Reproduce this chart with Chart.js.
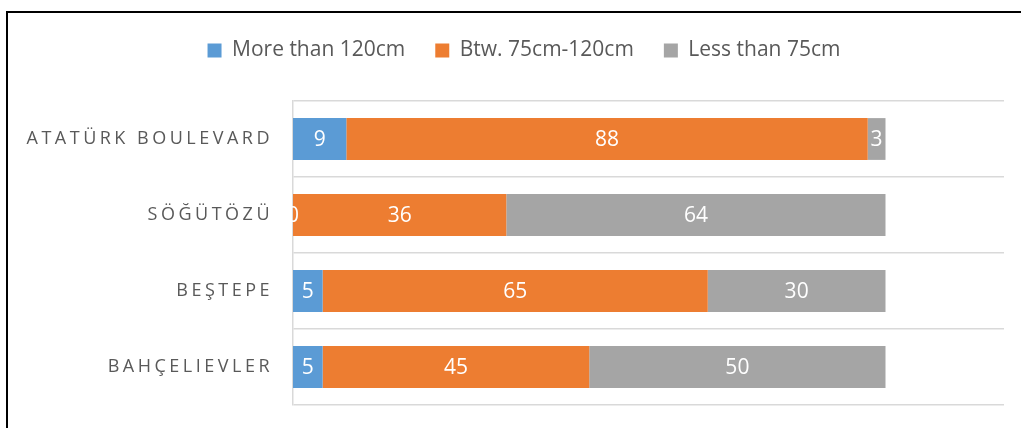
<!DOCTYPE html>
<html>
<head>
<meta charset="utf-8">
<script src="https://cdn.jsdelivr.net/npm/chart.js@4"></script>
<style>
  html, body { margin: 0; padding: 0; background: #fff; overflow: hidden; }
  #wrap { position: relative; width: 1021px; height: 428px; }
  #frame { position: absolute; left: 6px; top: 11px; width: 2000px; height: 1000px;
           border-left: 2px solid #000; border-top: 2px solid #000; box-sizing: border-box; }
  canvas { position: absolute; left: 0; top: 0; }
</style>
</head>
<body>
<div id="wrap">
  <div id="frame"></div>
  <canvas id="c" width="1021" height="428"></canvas>
</div>
<script>
// Streets surveyed, listed top to bottom
const streets = ['ATATÜRK BOULEVARD', 'SÖĞÜTÖZÜ', 'BEŞTEPE', 'BAHÇELIEVLER'];

// Share of each width class per street (%)
const moreThan120 = [9, 0, 5, 5];
const between75and120 = [88, 36, 65, 45];
const lessThan75 = [3, 64, 30, 50];

const seriesNames = ['More than 120cm', 'Btw. 75cm-120cm', 'Less than 75cm'];
const seriesColors = ['#5B9BD5', '#ED7D31', '#A5A5A5'];

const PAD_TOP = 10;
const PLOT_LEFT = 293;
const PLOT_TOP = 101;
const LEGEND_SHIFT = 22;

// Fixed legend band height, and the legend row centred over the plot
const legendPlacement = {
  id: 'legendPlacement',
  beforeLayout(chart) {
    const lg = chart.legend;
    if (lg && !lg._heightWrapped) {
      const fit = lg.fit.bind(lg);
      lg.fit = function () {
        fit();
        this.height = PLOT_TOP - PAD_TOP;
      };
      lg._heightWrapped = true;
    }
  },
  afterLayout(chart) {
    const lg = chart.legend;
    if (lg) {
      lg.left += LEGEND_SHIFT;
      lg.right += LEGEND_SHIFT;
    }
  }
};

// Wide-tracked category labels on the y axis
const spacedLabels = {
  id: 'spacedLabels',
  beforeDraw(chart) {
    const y = chart.scales.y;
    if (y && !y._spacedWrapped) {
      const orig = y.drawLabels.bind(y);
      y.drawLabels = function (area) {
        const ctx = this.ctx;
        ctx.save();
        ctx.letterSpacing = '3.5px';
        orig(area);
        ctx.restore();
      };
      y._spacedWrapped = true;
    }
  }
};

// Value labels centred in each bar segment
const valueLabels = {
  id: 'valueLabels',
  afterDatasetsDraw(chart) {
    const ctx = chart.ctx;
    ctx.save();
    ctx.font = '21px "Open Sans"';
    ctx.fillStyle = '#ffffff';
    ctx.textAlign = 'center';
    ctx.textBaseline = 'middle';
    chart.data.datasets.forEach((ds, di) => {
      const meta = chart.getDatasetMeta(di);
      meta.data.forEach((bar, i) => {
        const p = bar.getProps(['x', 'y', 'base'], true);
        ctx.fillText(String(ds.data[i]), (p.x + p.base) / 2, p.y + 1);
      });
    });
    ctx.restore();
  }
};

const datasets = [moreThan120, between75and120, lessThan75].map((vals, k) => ({
  label: seriesNames[k],
  data: vals,
  backgroundColor: seriesColors[k],
  borderWidth: 0,
  barPercentage: 0.55,
  categoryPercentage: 1
}));

new Chart(document.getElementById('c'), {
  type: 'bar',
  data: { labels: streets, datasets },
  options: {
    indexAxis: 'y',
    responsive: false,
    animation: false,
    layout: { padding: { left: 0, right: 17, top: PAD_TOP, bottom: 23 } },
    plugins: {
      legend: {
        position: 'top',
        labels: {
          boxWidth: 14,
          boxHeight: 14,
          padding: 30,
          color: '#595959',
          font: { family: '"Open Sans"', size: 21 }
        }
      },
      tooltip: { enabled: false }
    },
    scales: {
      x: {
        stacked: true,
        min: 0,
        max: 120,
        display: false
      },
      y: {
        stacked: true,
        offset: true,
        afterFit(scale) {
          scale.width = PLOT_LEFT;
          scale.paddingTop = 0;
          scale.paddingBottom = 0;
        },
        grid: {
          offset: true,
          drawTicks: false,
          color: '#d9d9d9',
          lineWidth: 1.5
        },
        border: { display: true, color: '#d9d9d9', width: 1.5 },
        ticks: {
          padding: 20,
          color: '#595959',
          font: { family: '"Open Sans"', size: 18 }
        }
      }
    }
  },
  plugins: [legendPlacement, spacedLabels, valueLabels]
});
</script>
</body>
</html>
